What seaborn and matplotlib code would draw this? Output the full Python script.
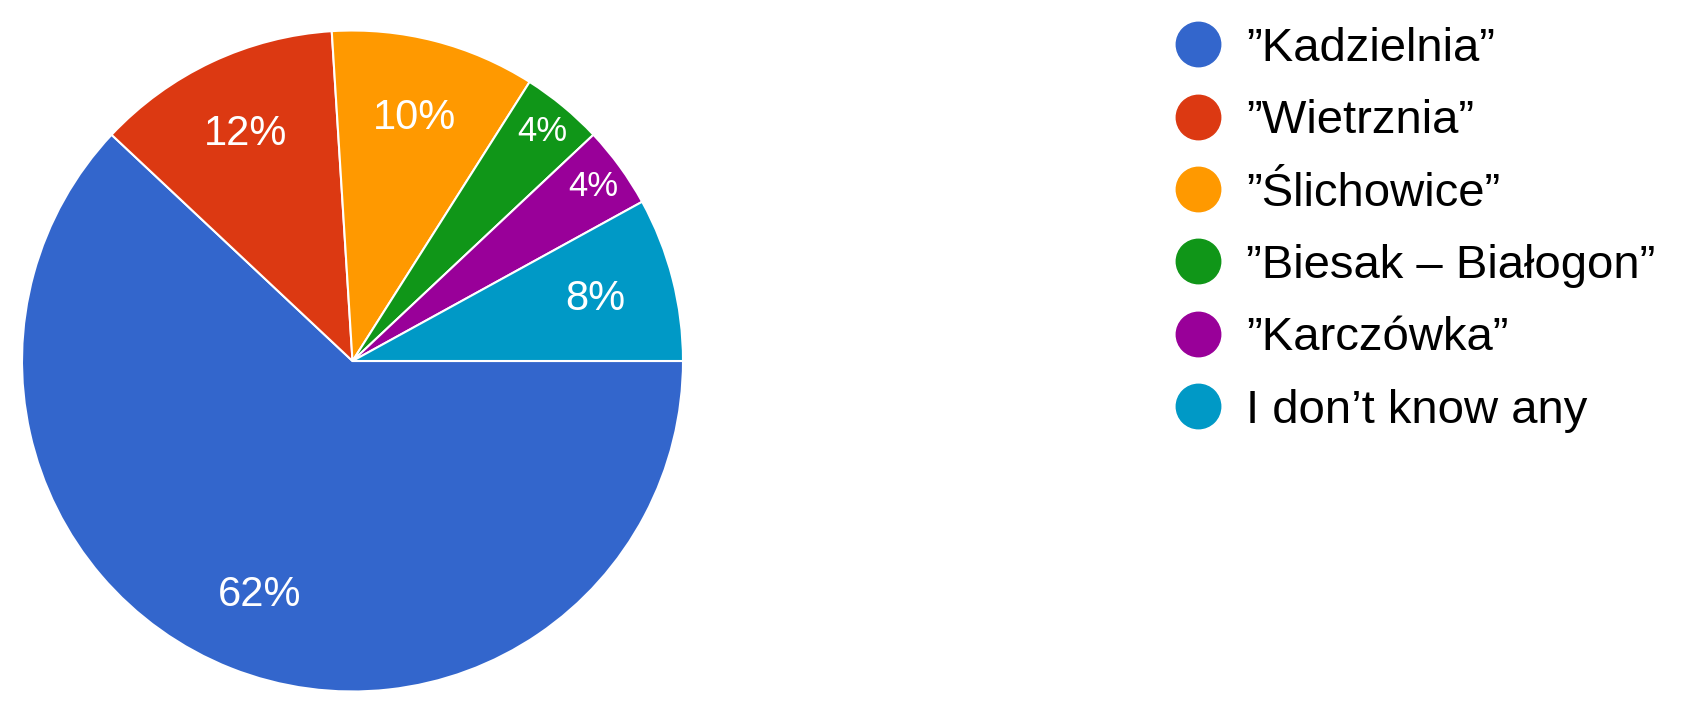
import matplotlib
matplotlib.use("Agg")
import numpy as np
import matplotlib.pyplot as plt
import seaborn as sns
from matplotlib.lines import Line2D

# DATA
labels = ["\u201dKadzielnia\u201d", "\u201dWietrznia\u201d", "\u201d\u015alichowice\u201d",
          "\u201dBiesak \u2013 Bia\u0142ogon\u201d", "\u201dKarcz\u00f3wka\u201d", "I don\u2019t know any"]
shares = [62, 12, 10, 4, 4, 8]
colors = ["#3366cc", "#dc3912", "#ff9900", "#109618", "#990099", "#0099c6"]

sns.set_theme(style="white")
plt.rcParams["font.family"] = ["Liberation Sans", "DejaVu Sans"]

fig = plt.figure(figsize=(16.95, 7.10), dpi=100)
ax = fig.add_axes([22 / 1695, 18 / 710, 661 / 1695, 662 / 710])

wedges, texts, autotexts = ax.pie(
    shares,
    colors=colors,
    startangle=0,
    counterclock=False,
    autopct="%d%%",
    pctdistance=0.76,
    wedgeprops=dict(edgecolor="white", linewidth=1.5),
    textprops=dict(color="white", fontsize=30),
)
# small slices: labels pushed towards the rim
for w, t, v in zip(wedges, autotexts, shares):
    if v < 5:
        mid = np.deg2rad((w.theta1 + w.theta2) / 2)
        t.set_position((0.90 * np.cos(mid), 0.90 * np.sin(mid)))
        t.set_fontsize(25)

ax.set_xlim(-1, 1)
ax.set_ylim(-1, 1)
ax.set_aspect("equal")

handles = [Line2D([0], [0], marker="o", linestyle="", markersize=32,
                  markerfacecolor=c, markeredgecolor=c) for c in colors]
fig.legend(
    handles, labels,
    loc="upper left",
    bbox_to_anchor=(0.692, 0.962),
    frameon=False,
    borderpad=0,
    borderaxespad=0,
    handlelength=1.05,
    handletextpad=0.5,
    labelspacing=0.6,
    labelcolor="black",
    prop=dict(family=["Liberation Sans", "DejaVu Sans"], size=34),
)

plt.savefig("out.png", dpi=100)
